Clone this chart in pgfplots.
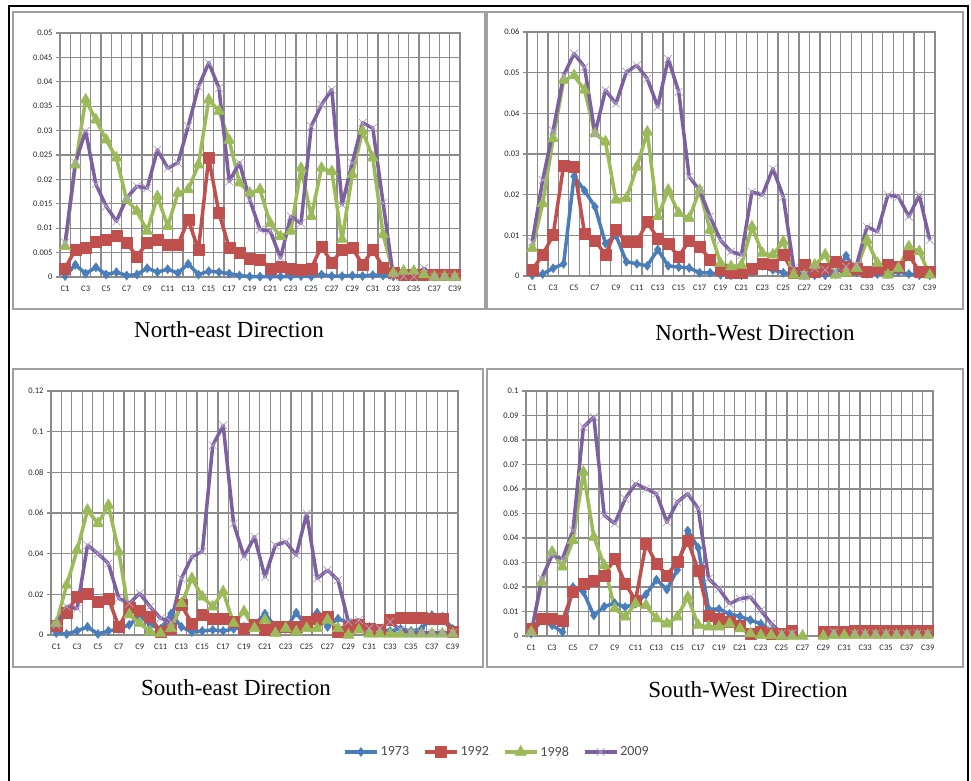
\documentclass[border=0pt]{standalone}
\usepackage{fontspec}
\setmainfont{Liberation Serif}
\newfontfamily\carlito{Carlito}
\usepackage{graphicx}
\usepackage{pgfplots}
\usepackage{pgfplotstable}
\pgfplotsset{compat=1.18}

\definecolor{c73}{HTML}{4A7EBB}
\definecolor{c92}{HTML}{C0504D}
\definecolor{c98}{HTML}{9BBB59}
\definecolor{c09}{HTML}{7D60A0}
\definecolor{c09m}{HTML}{B3A2C7}
\definecolor{gridc}{HTML}{8C8C8C}
\definecolor{boxc}{HTML}{A0A0A0}

% columns: category, 1973, 1992, 1998, 2009
\pgfplotstableread{
x b r g p
1 0.0002 0.0018 0.0063 0.0070
2 0.0025 0.0056 0.0230 0.0234
3 0.0007 0.0060 0.0363 0.0299
4 0.0020 0.0073 0.0322 0.0190
5 0.0005 0.0077 0.0281 0.0145
6 0.0010 0.0085 0.0244 0.0114
7 0.0003 0.0070 0.0158 0.0162
8 0.0005 0.0042 0.0135 0.0186
9 0.0018 0.0070 0.0094 0.0182
10 0.0010 0.0077 0.0165 0.0261
11 0.0016 0.0066 0.0104 0.0223
12 0.0008 0.0066 0.0172 0.0234
13 0.0027 0.0117 0.0179 0.0309
14 0.0005 0.0056 0.0230 0.0390
15 0.0012 0.0244 0.0363 0.0439
16 0.0010 0.0131 0.0340 0.0387
17 0.0007 0.0060 0.0280 0.0196
18 0.0003 0.0049 0.0193 0.0234
19 0.0001 0.0037 0.0172 0.0158
20 0.0001 0.0036 0.0179 0.0097
21 0.0001 0.0018 0.0110 0.0094
22 0.0001 0.0022 0.0083 0.0039
23 0.0001 0.0018 0.0094 0.0124
24 0.0002 0.0016 0.0223 0.0110
25 0.0001 0.0018 0.0124 0.0309
26 0.0005 0.0063 0.0223 0.0353
27 0.0002 0.0029 0.0216 0.0384
28 0.0002 0.0056 0.0077 0.0148
29 0.0003 0.0060 0.0210 0.0234
30 0.0002 0.0025 0.0299 0.0316
31 0.0004 0.0056 0.0244 0.0305
32 0.0003 0.0020 0.0087 0.0152
33 0.0001 0.0008 0.0008 0.0001
34 0.0001 0.0005 0.0012 0.0001
35 0.0001 0.0005 0.0012 0.0000
36 0.0001 0.0005 0.0005 0.0018
37 0.0001 0.0005 0.0000 0.0000
38 0.0001 0.0005 0.0000 0.0000
39 0.0001 0.0005 0.0000 0.0000
}\dataNE

\pgfplotstableread{
x b r g p
1 0.0002 0.0015 0.0068 0.0084
2 0.0005 0.0052 0.0178 0.0236
3 0.0019 0.0101 0.0338 0.0358
4 0.0030 0.0272 0.0481 0.0493
5 0.0245 0.0268 0.0493 0.0547
6 0.0210 0.0105 0.0457 0.0514
7 0.0170 0.0088 0.0350 0.0350
8 0.0080 0.0052 0.0330 0.0457
9 0.0100 0.0113 0.0187 0.0424
10 0.0035 0.0084 0.0191 0.0502
11 0.0030 0.0084 0.0268 0.0518
12 0.0025 0.0133 0.0354 0.0485
13 0.0065 0.0092 0.0146 0.0416
14 0.0025 0.0080 0.0211 0.0534
15 0.0022 0.0047 0.0154 0.0453
16 0.0020 0.0088 0.0142 0.0244
17 0.0008 0.0072 0.0211 0.0211
18 0.0008 0.0041 0.0113 0.0146
19 0.0003 0.0015 0.0031 0.0088
20 0.0002 0.0007 0.0023 0.0060
21 0.0002 0.0007 0.0027 0.0052
22 0.0010 0.0019 0.0121 0.0207
23 0.0025 0.0031 0.0056 0.0199
24 0.0015 0.0027 0.0052 0.0264
25 0.0008 0.0052 0.0084 0.0195
26 0.0005 0.0007 0.0002 0.0019
27 0.0002 0.0027 0.0000 0.0002
28 0.0002 0.0011 0.0027 0.0019
29 0.0002 0.0019 0.0052 0.0015
30 0.0005 0.0035 0.0002 0.0010
31 0.0050 0.0023 0.0007 0.0023
32 0.0010 0.0019 0.0019 0.0027
33 0.0005 0.0011 0.0088 0.0121
34 0.0005 0.0019 0.0031 0.0109
35 0.0005 0.0027 0.0002 0.0199
36 0.0010 0.0023 0.0019 0.0195
37 0.0005 0.0052 0.0072 0.0146
38 0.0002 0.0011 0.0060 0.0199
39 0.0002 0.0011 0.0002 0.0088
}\dataNW

\pgfplotstableread{
x b r g p
1 0.0010 0.0045 0.0057 0.0049
2 0.0005 0.0110 0.0245 0.0140
3 0.0020 0.0188 0.0417 0.0130
4 0.0040 0.0205 0.0614 0.0442
5 0.0005 0.0165 0.0548 0.0400
6 0.0020 0.0180 0.0638 0.0352
7 0.0030 0.0040 0.0409 0.0180
8 0.0050 0.0135 0.0100 0.0155
9 0.0095 0.0120 0.0057 0.0205
10 0.0050 0.0090 0.0016 0.0139
11 0.0030 0.0016 0.0008 0.0082
12 0.0105 0.0033 0.0033 0.0065
13 0.0040 0.0147 0.0155 0.0278
14 0.0015 0.0057 0.0278 0.0385
15 0.0020 0.0098 0.0188 0.0410
16 0.0025 0.0082 0.0139 0.0933
17 0.0020 0.0082 0.0213 0.1031
18 0.0030 0.0065 0.0057 0.0548
19 0.0040 0.0033 0.0115 0.0385
20 0.0050 0.0049 0.0033 0.0483
21 0.0105 0.0025 0.0074 0.0286
22 0.0040 0.0040 0.0008 0.0442
23 0.0030 0.0040 0.0033 0.0458
24 0.0110 0.0040 0.0016 0.0393
25 0.0040 0.0065 0.0033 0.0597
26 0.0110 0.0082 0.0033 0.0278
27 0.0040 0.0090 0.0074 0.0319
28 0.0080 0.0016 0.0033 0.0270
29 0.0060 0.0040 0.0000 0.0065
30 0.0050 0.0049 0.0025 0.0074
31 0.0040 0.0033 0.0005 0.0033
32 0.0030 0.0025 0.0005 0.0033
33 0.0020 0.0075 0.0005 0.0065
34 0.0030 0.0085 0.0005 0.0025
35 0.0020 0.0085 0.0005 0.0010
36 0.0030 0.0085 0.0005 0.0010
37 0.0098 0.0082 0.0005 0.0010
38 0.0090 0.0080 0.0005 0.0010
39 0.0030 0.0016 0.0005 0.0010
}\dataSE

\pgfplotstableread{
x b r g p
1 0.0010 0.0030 0.0016 0.0010
2 0.0064 0.0071 0.0220 0.0234
3 0.0044 0.0071 0.0343 0.0330
4 0.0016 0.0064 0.0282 0.0316
5 0.0200 0.0180 0.0390 0.0431
6 0.0180 0.0214 0.0669 0.0853
7 0.0084 0.0227 0.0404 0.0894
8 0.0120 0.0248 0.0288 0.0493
9 0.0134 0.0316 0.0112 0.0459
10 0.0118 0.0214 0.0078 0.0560
11 0.0132 0.0146 0.0132 0.0622
12 0.0170 0.0377 0.0125 0.0601
13 0.0230 0.0295 0.0071 0.0581
14 0.0190 0.0248 0.0050 0.0465
15 0.0270 0.0302 0.0078 0.0547
16 0.0430 0.0390 0.0159 0.0581
17 0.0360 0.0268 0.0044 0.0520
18 0.0110 0.0084 0.0037 0.0234
19 0.0110 0.0071 0.0037 0.0193
20 0.0090 0.0057 0.0050 0.0132
21 0.0080 0.0044 0.0030 0.0152
22 0.0065 0.0010 0.0010 0.0159
23 0.0050 0.0016 0.0003 0.0105
24 0.0020 0.0010 0.0003 0.0050
25 0.0010 0.0010 0.0000 0.0010
26 0.0005 0.0023 0.0000 0.0010
27 nan nan 0.0000 nan
28 nan nan nan nan
29 0.0005 0.0018 0.0000 nan
30 0.0008 0.0018 0.0003 0.0015
31 0.0008 0.0018 0.0003 nan
32 0.0008 0.0020 0.0003 0.0010
33 0.0008 0.0020 0.0003 0.0010
34 0.0008 0.0020 0.0003 0.0010
35 0.0008 0.0020 0.0003 0.0010
36 0.0008 0.0020 0.0003 0.0010
37 0.0008 0.0020 0.0003 0.0010
38 0.0008 0.0020 0.0003 0.0010
39 0.0008 0.0020 0.0003 0.0010
}\dataSW

\pgfplotsset{
  panel/.style={
    scale only axis, height=244pt,
    xmin=0.5, xmax=39.5, ymin=0,
    xtick={0.5,1.5,2.5,3.5,4.5,5.5,6.5,7.5,8.5,9.5,10.5,11.5,12.5,13.5,14.5,15.5,16.5,17.5,18.5,19.5,20.5,21.5,22.5,23.5,24.5,25.5,26.5,27.5,28.5,29.5,30.5,31.5,32.5,33.5,34.5,35.5,36.5,37.5,38.5,39.5},
    xticklabels={},
    extra x ticks={1,3,5,7,9,11,13,15,17,19,21,23,25,27,29,31,33,35,37,39},
    extra x tick labels={C1,C3,C5,C7,C9,C11,C13,C15,C17,C19,C21,C23,C25,C27,C29,C31,C33,C35,C37,C39},
    extra x tick style={grid=none, major tick length=0pt, tick style={draw=none},
      xticklabel style={yshift=-5pt}},
    xmajorgrids=true, ymajorgrids=true,
    grid style={gridc, line width=1.25pt},
    major grid style={gridc, line width=1.25pt},
    axis line style={gridc, line width=1.25pt},
    xtick style={draw=none},
    ytick pos=left, tick align=outside, major tick length=4pt,
    ytick style={gridc, line width=1.25pt},
    scaled y ticks=false,
    yticklabel style={/pgf/number format/fixed, /pgf/number format/precision=3},
    /pgf/number format/assume math mode=true,
    tick label style={font=\carlito\fontsize{8.5}{9}\selectfont, text=black!85},
    unbounded coords=jump,
    clip=false,
    legend image code/.code={\draw[mark repeat=2,mark phase=2] plot coordinates {(0pt,0pt) (16pt,0pt) (32pt,0pt)};},
  },
  s73/.style={c73, line width=3.5pt, line join=round, mark=diamond*, mark size=4.6pt, mark options={solid, line width=0.4pt, fill=c73}},
  s92/.style={c92, line width=3.5pt, line join=round, mark=square*, mark size=5.5pt, mark options={solid, line width=0.4pt, fill=c92}},
  s98/.style={c98, line width=3.5pt, line join=round, mark=triangle*, mark size=6.6pt, mark options={solid, line width=0.4pt, fill=c98}},
  s09/.style={c09, line width=3.5pt, line join=round, mark=x, mark size=5.5pt, mark options={solid, line width=0.7pt, draw=c09m}},
}

\begin{document}
\begin{tikzpicture}
\useasboundingbox (0,0) rectangle (971pt,-780pt);
\fill[white] (0,0) rectangle (971pt,-780pt);
\draw[black, line width=2.5pt] (9pt,-6pt) rectangle (968pt,-800pt);
\draw[boxc, line width=1.6pt] (13pt,-12pt) rectangle (485pt,-309pt);
\draw[boxc, line width=1.6pt] (487pt,-12pt) rectangle (963pt,-309pt);
\draw[boxc, line width=1.6pt] (13pt,-369pt) rectangle (483pt,-667pt);
\draw[boxc, line width=1.6pt] (487pt,-369pt) rectangle (963pt,-667pt);

\begin{axis}[panel, at={(60pt,-277pt)}, anchor=south west, width=400pt,
  ymax=0.05, ytick={0,0.005,0.01,0.015,0.02,0.025,0.03,0.035,0.04,0.045,0.05}]
\addplot[s73] table[x=x,y=b]{\dataNE};
\addplot[s92] table[x=x,y=r]{\dataNE};
\addplot[s98] table[x=x,y=g]{\dataNE};
\addplot[s09] table[x=x,y=p]{\dataNE};
\end{axis}

\begin{axis}[panel, at={(527pt,-276pt)}, anchor=south west, width=408pt,
  ymax=0.06, ytick={0,0.01,0.02,0.03,0.04,0.05,0.06}]
\addplot[s73] table[x=x,y=b]{\dataNW};
\addplot[s92] table[x=x,y=r]{\dataNW};
\addplot[s98] table[x=x,y=g]{\dataNW};
\addplot[s09] table[x=x,y=p]{\dataNW};
\end{axis}

\begin{axis}[panel, at={(51pt,-635pt)}, anchor=south west, width=407pt,
  ymax=0.12, ytick={0,0.02,0.04,0.06,0.08,0.1,0.12},
  legend style={at={(1.0958,-0.4795)}, anchor=center, draw=none, fill=none,
    legend columns=-1, font=\carlito\fontsize{14}{16}\selectfont, text=black!70,
    /tikz/every even column/.append style={column sep=12pt}},
  legend cell align=left]
\addplot[s73] table[x=x,y=b]{\dataSE};
\addplot[s92] table[x=x,y=r]{\dataSE};
\addplot[s98] table[x=x,y=g]{\dataSE};
\addplot[s09] table[x=x,y=p]{\dataSE};
\legend{1973,1992,1998,2009}
\end{axis}

\begin{axis}[panel, at={(526pt,-636pt)}, anchor=south west, width=407pt, height=245pt,
  ymax=0.1, ytick={0,0.01,0.02,0.03,0.04,0.05,0.06,0.07,0.08,0.09,0.1}]
\addplot[s73] table[x=x,y=b]{\dataSW};
\addplot[s92] table[x=x,y=r]{\dataSW};
\addplot[s98] table[x=x,y=g]{\dataSW};
\addplot[s09] table[x=x,y=p]{\dataSW};
\end{axis}

\node at (229pt,-330pt) {\fontsize{23}{26}\selectfont North-east Direction};
\node at (755pt,-333pt) {\fontsize{23}{26}\selectfont North-West Direction};
\node at (236pt,-688pt) {\fontsize{23}{26}\selectfont South-east Direction};
\node at (748pt,-690pt) {\fontsize{23}{26}\selectfont South-West Direction};
\end{tikzpicture}
\end{document}
